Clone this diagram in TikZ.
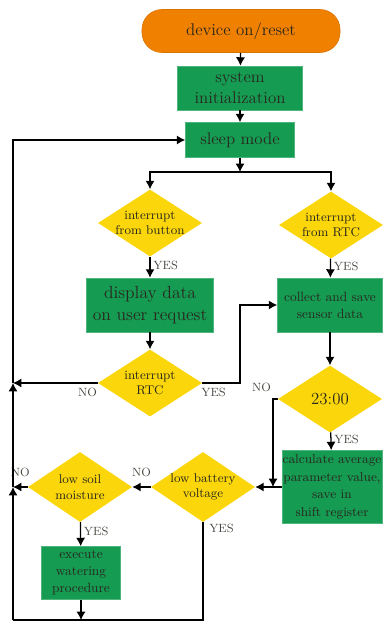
\documentclass[tikz,border=0pt]{standalone}
\usepackage{xcolor}
\usepackage{tikz}
\definecolor{startorange}{RGB}{240,128,0}
\definecolor{stepgreen}{RGB}{22,155,82}
\definecolor{askyellow}{RGB}{250,214,10}
\definecolor{inkgray}{RGB}{40,38,30}
\usetikzlibrary{shapes,arrows,arrows.meta,positioning}

\begin{document}
\begin{tikzpicture}[
    x=0.025cm, y=-0.025cm,
    >={Latex[length=6pt,width=6.5pt]},
    line/.style={draw=black, line width=0.9pt},
    flow/.style={line, ->},
    box/.style={rectangle, fill=stepgreen, draw=stepgreen!75!white, text=inkgray, align=center, inner sep=0.5pt},
    ask/.style={diamond, fill=askyellow, text=inkgray, align=center, inner sep=-3pt, aspect=1.55, minimum width=2.6cm, minimum height=1.675cm, font=\fontsize{9}{11}\selectfont},
    term/.style={rectangle, rounded corners=0.5cm, fill=startorange, draw=startorange!90!black, text=inkgray},
    lbl/.style={text=inkgray!85, font=\fontsize{8.5}{10}\selectfont, inner sep=0pt}
]
\useasboundingbox (0,0) rectangle (382,623);

\node[term, minimum width=4.95cm, minimum height=1.075cm, font=\fontsize{12}{14}\selectfont] (start) at (241,31) {device on/reset};
\node[box, minimum width=3.125cm, minimum height=1.1cm, font=\fontsize{12}{15}\selectfont] (init) at (240,88) {system\\initialization};
\node[box, minimum width=2.725cm, minimum height=0.875cm, font=\fontsize{12}{15}\selectfont] (sleep) at (240,140) {sleep mode};
\node[ask] (button) at (150,223) {interrupt\\from button};
\node[ask] (rtc) at (331,225) {interrupt\\from RTC};
\node[box, minimum width=3.175cm, minimum height=1.35cm, font=\fontsize{12.5}{15.5}\selectfont] (display) at (150,305) {display data\\on user request};
\node[box, minimum width=2.625cm, minimum height=1.35cm, font=\fontsize{9.5}{12}\selectfont] (collect) at (330,305) {collect and save\\sensor data};
\node[ask] (rtcagain) at (150,383) {interrupt\\RTC};
\node[ask, font=\fontsize{12}{14}\selectfont] (midnight) at (330,399) {23:00};
\node[box, minimum width=2.475cm, minimum height=1.825cm, font=\fontsize{9.2}{12.5}\selectfont] (average) at (332,487) {calculate average\\parameter value,\\save in\\shift register};
\node[ask, minimum height=1.75cm] (battery) at (203,487) {low battery\\voltage};
\node[ask, minimum height=1.75cm] (soil) at (80,487) {low soil\\moisture};
\node[box, minimum width=1.975cm, minimum height=1.325cm, font=\fontsize{9.5}{12}\selectfont] (water) at (81,573) {execute\\watering\\procedure};

\coordinate (split) at (240,172);
\coordinate (loopt) at (13,140);
\coordinate (nortc) at (13,383);
\coordinate (nosoil) at (13,487);
\coordinate (loopb) at (13,620);
\coordinate (battb) at (203,620);
\coordinate (waterb) at (81,620);
\coordinate (bend) at (240,383);
\coordinate (midno) at (273,399);
\coordinate (midjoin) at (273,487);

\draw[flow] (start) -- (init);
\draw[flow] (init) -- (sleep);
\draw[flow] (sleep) -- (split);
\draw[flow] (split) -| (button);
\draw[flow] (split) -| (rtc);
\draw[flow] (button) -- node[lbl, right=2pt, pos=0.4]{YES} (display);
\draw[flow] (rtc) -- node[lbl, right=2pt, pos=0.4]{YES} (collect);
\draw[flow] (display) -- (rtcagain);
\draw[flow] (rtcagain.west) -- node[lbl, below=3pt, pos=0.12]{NO} (nortc);
\draw[flow] (rtcagain.east) -- node[lbl, below=3pt, pos=0.3]{YES} (bend) |- (collect.west);
\draw[flow] (collect) -- (midnight);
\draw[flow] (midnight.west) -- (midno) node[lbl, above left=5pt and 1pt]{NO} -- (midjoin);
\draw[flow] (midnight) -- node[lbl, right=2pt, pos=0.4]{YES} (average);
\draw[flow] (average) -- (battery);
\draw[flow] (battery) -- node[lbl, above=7pt]{NO} (soil);
\draw[flow] (soil.west) -- node[lbl, above=7pt]{NO} (nosoil);
\draw[flow] (soil) -- node[lbl, right=2pt, pos=0.4]{YES} (water);
\draw[flow] (water) -- (waterb);
\draw[line] (battery.south) -- node[lbl, right=4pt, pos=0.06]{YES} (battb) -- (loopb);
\draw[flow] (loopb) -- (nosoil);
\draw[flow] (nosoil) -- (nortc);
\draw[flow] (nortc) -- (loopt) -- (sleep.west);

\end{tikzpicture}
\end{document}
